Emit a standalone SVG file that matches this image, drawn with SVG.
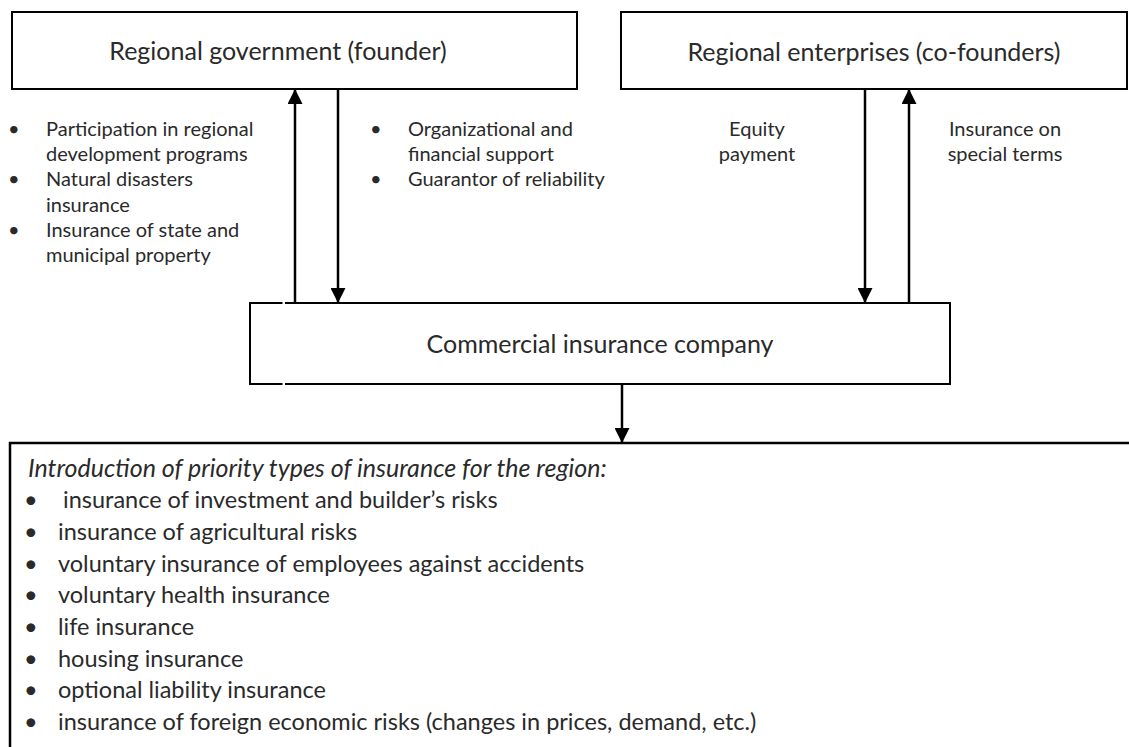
<svg xmlns="http://www.w3.org/2000/svg" width="1129" height="747" viewBox="0 0 1129 747">
<defs>
<marker id="ah" viewBox="0 0 15 15" refX="14" refY="7.5" markerWidth="15" markerHeight="15" markerUnits="userSpaceOnUse" orient="auto">
<path d="M0,0 L15,7.5 L0,15 Z" fill="#000"/>
</marker>
<style>
.box{fill:#fff;stroke:#000;stroke-width:2}
.t{font-family:Lato,"Liberation Sans",sans-serif;fill:#2a2a2a}
.title{font-size:25px;text-anchor:middle}
.side{font-size:20px}
.list{font-size:23.5px}
.hdr{font-size:25px;font-style:italic}
.c{stroke:#000;stroke-width:2.5;fill:none;marker-end:url(#ah)}
</style>
</defs>
<rect width="1129" height="747" fill="#fff"/>
<g id="gov">
<rect class="box" x="12" y="12" width="565" height="77"/>
<text class="t title" x="278" y="60">Regional government (founder)</text>
</g>
<g id="enterprises">
<rect class="box" x="621" y="12" width="506" height="77"/>
<text class="t title" x="874" y="61">Regional enterprises (co-founders)</text>
</g>
<g id="company">
<rect class="box" x="250" y="303" width="700" height="81"/>
<rect x="282.5" y="301" width="2.5" height="4" fill="#fff"/>
<rect x="282.5" y="382" width="2.5" height="4" fill="#fff"/>
<text class="t title" x="600" y="353">Commercial insurance company</text>
</g>
<g id="priority">
<rect class="box" x="10" y="443" width="1140" height="320" style="stroke-width:2.5"/>
<text class="t hdr" x="28" y="477">Introduction of priority types of insurance for the region:</text>
<g class="t list">
<text x="24" y="508">•</text><text x="63" y="508">insurance of investment and builder’s risks</text>
<text x="24" y="540">•</text><text x="58" y="540">insurance of agricultural risks</text>
<text x="24" y="572">•</text><text x="58" y="572">voluntary insurance of employees against accidents</text>
<text x="24" y="603">•</text><text x="58" y="603">voluntary health insurance</text>
<text x="24" y="635">•</text><text x="58" y="635">life insurance</text>
<text x="24" y="667">•</text><text x="58" y="667">housing insurance</text>
<text x="24" y="698">•</text><text x="58" y="698">optional liability insurance</text>
<text x="24" y="730">•</text><text x="58" y="730">insurance of foreign economic risks (changes in prices, demand, etc.)</text>
</g>
</g>
<g id="labels" class="t side">
<text x="8" y="136">•</text><text x="46" y="136">Participation in regional</text>
<text x="46" y="161">development programs</text>
<text x="8" y="186">•</text><text x="46" y="186">Natural disasters</text>
<text x="46" y="212">insurance</text>
<text x="8" y="237">•</text><text x="46" y="237">Insurance of state and</text>
<text x="46" y="262">municipal property</text>
<text x="370" y="136">•</text><text x="408" y="136">Organizational and</text>
<text x="408" y="161">financial support</text>
<text x="370" y="186">•</text><text x="408" y="186">Guarantor of reliability</text>
<text x="757" y="136" text-anchor="middle">Equity</text>
<text x="757" y="161" text-anchor="middle">payment</text>
<text x="1005" y="136" text-anchor="middle">Insurance on</text>
<text x="1005" y="161" text-anchor="middle">special terms</text>
</g>
<g id="connectors">
<line class="c" x1="295" y1="303" x2="295" y2="90"/>
<line class="c" x1="338" y1="89" x2="338" y2="302"/>
<line class="c" x1="865" y1="89" x2="865" y2="302"/>
<line class="c" x1="909" y1="303" x2="909" y2="90"/>
<line class="c" x1="622" y1="384" x2="622" y2="442"/>
</g>
</svg>
